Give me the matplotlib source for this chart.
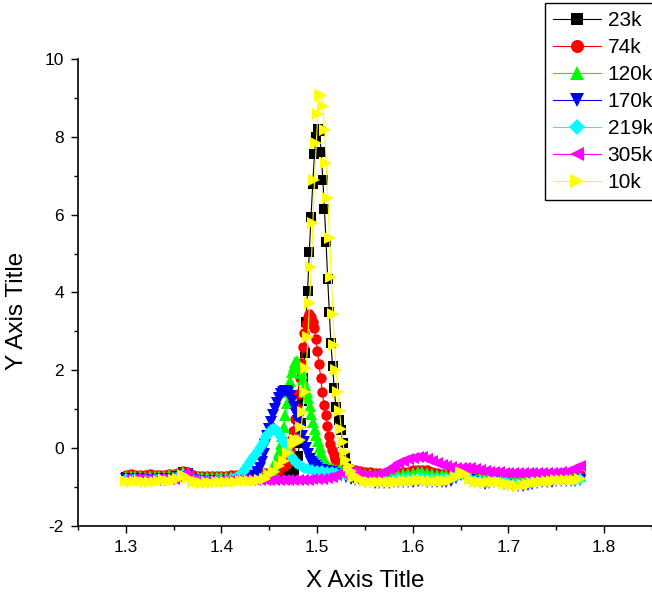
"""
Origin-style multi-temperature spectrum overlay, redrawn with matplotlib
"""

import numpy as np
import matplotlib
matplotlib.use("Agg")
import matplotlib.pyplot as plt

nan = np.nan

# regular sampling of the flat parts: 1.300, 1.305, ..., 1.775 (96 points)
GRID = np.round(1.300 + 0.005 * np.arange(96), 3)

LABELS = ["23k", "74k", "120k", "170k", "219k", "305k", "10k"]
COLORS = ["#000000", "#FF0000", "#00FF00", "#0000FF", "#00FFFF", "#FF00FF", "#FFFF00"]
MARKERS = ["s", "o", "^", "v", "D", "<", ">"]

# ---- baseline values on GRID (nan where the finer peak samples take over) ----
BASE_23K = [
    -0.74, -0.75, -0.74, -0.73, -0.75, -0.76, -0.75, -0.74, -0.73, -0.73,
    -0.72, -0.68, -0.60, -0.65, -0.74, -0.77, -0.78, -0.77, -0.78, -0.77,
    -0.76, -0.77, -0.76, -0.75, -0.75, -0.74, -0.75, -0.74, -0.73, -0.72,
    -0.72, -0.71, -0.70, -0.68, -0.65, -0.60, nan, nan, nan, nan,
    nan, nan, nan, nan, nan, nan, nan, -0.64, -0.69, -0.72,
    -0.74, -0.75, -0.76, -0.76, -0.75, -0.75, -0.74, -0.74, -0.73, -0.72,
    -0.70, -0.68, -0.68, -0.70, -0.73, -0.75, -0.76, -0.75, -0.72, -0.66,
    -0.60, -0.63, -0.72, -0.78, -0.80, -0.80, -0.79, -0.78, -0.79, -0.81,
    -0.84, -0.86, -0.87, -0.86, -0.84, -0.82, -0.80, -0.79, -0.78, -0.77,
    -0.76, -0.75, -0.75, -0.76, -0.75, -0.73,
]
BASE_74K = [
    -0.68, -0.67, -0.68, -0.69, -0.68, -0.67, -0.68, -0.69, -0.68, -0.67,
    -0.66, -0.63, -0.58, -0.62, -0.70, -0.72, -0.72, -0.71, -0.72, -0.72,
    -0.71, -0.71, -0.70, -0.70, -0.69, -0.68, -0.67, -0.67, -0.66, -0.65,
    -0.63, -0.60, -0.55, -0.47, nan, nan, nan, nan, nan, nan,
    nan, nan, nan, nan, nan, nan, -0.51, -0.53, -0.55, -0.58,
    -0.60, -0.62, -0.64, -0.65, -0.66, -0.66, -0.65, -0.64, -0.62, -0.60,
    -0.57, -0.55, -0.55, -0.57, -0.61, -0.64, -0.66, -0.67, -0.66, -0.63,
    -0.58, -0.61, -0.67, -0.70, -0.71, -0.71, -0.70, -0.70, -0.71, -0.72,
    -0.73, -0.74, -0.74, -0.73, -0.72, -0.71, -0.70, -0.70, -0.69, -0.69,
    -0.68, -0.68, -0.69, -0.70, -0.70, -0.68,
]
BASE_120K = [
    -0.71, -0.72, -0.71, -0.72, -0.73, -0.72, -0.71, -0.72, -0.71, -0.70,
    -0.69, -0.66, -0.60, -0.64, -0.73, -0.75, -0.75, -0.74, -0.75, -0.74,
    -0.74, -0.73, -0.73, -0.72, -0.72, -0.71, -0.71, -0.70, -0.69, -0.66,
    nan, nan, nan, nan, nan, nan, nan, nan, nan, nan,
    nan, nan, nan, nan, nan, nan, -0.58, -0.60, -0.62, -0.64,
    -0.66, -0.67, -0.68, -0.69, -0.70, -0.70, -0.69, -0.68, -0.67, -0.66,
    -0.64, -0.62, -0.62, -0.64, -0.67, -0.69, -0.70, -0.70, -0.69, -0.65,
    -0.60, -0.63, -0.70, -0.73, -0.74, -0.74, -0.73, -0.73, -0.74, -0.75,
    -0.77, -0.78, -0.78, -0.77, -0.76, -0.75, -0.74, -0.73, -0.73, -0.72,
    -0.72, -0.72, -0.73, -0.74, -0.73, -0.71,
]
BASE_170K = [
    -0.80, -0.81, -0.80, -0.79, -0.81, -0.82, -0.81, -0.80, -0.79, -0.79,
    -0.78, -0.75, -0.68, -0.72, -0.82, -0.85, -0.86, -0.85, -0.86, -0.85,
    -0.84, -0.85, -0.84, -0.83, -0.82, -0.80, -0.77, nan, nan, nan,
    nan, nan, nan, nan, nan, nan, nan, nan, nan, nan,
    nan, nan, nan, -0.62, -0.66, -0.70, -0.74, -0.78, -0.82, -0.85,
    -0.87, -0.88, -0.89, -0.90, -0.90, -0.89, -0.88, -0.88, -0.87, -0.86,
    -0.86, -0.85, -0.85, -0.86, -0.86, -0.87, -0.87, -0.86, -0.84, -0.77,
    -0.68, -0.72, -0.82, -0.88, -0.90, -0.91, -0.90, -0.88, -0.89, -0.92,
    -0.95, -0.97, -0.98, -0.97, -0.95, -0.92, -0.90, -0.88, -0.87, -0.86,
    -0.85, -0.84, -0.84, -0.85, -0.84, -0.82,
]
BASE_219K = [
    -0.79, -0.80, -0.79, -0.78, -0.80, -0.81, -0.80, -0.79, -0.78, -0.78,
    -0.77, -0.73, -0.66, -0.70, -0.80, -0.83, -0.84, -0.83, -0.84, -0.83,
    -0.82, -0.81, nan, nan, nan, nan, nan, nan, nan, nan,
    nan, nan, nan, nan, nan, nan, nan, nan, nan, nan,
    nan, nan, nan, nan, nan, nan, nan, nan, nan, nan,
    -0.75, -0.77, -0.79, -0.81, -0.82, -0.82, -0.81, -0.80, -0.80, -0.79,
    -0.78, -0.77, -0.77, -0.78, -0.79, -0.80, -0.80, -0.79, -0.77, -0.71,
    -0.64, -0.68, -0.78, -0.84, -0.85, -0.86, -0.85, -0.83, -0.84, -0.86,
    -0.89, -0.91, -0.92, -0.91, -0.89, -0.87, -0.85, -0.83, -0.82, -0.81,
    -0.80, -0.80, -0.80, -0.81, -0.81, -0.79,
]
BASE_305K = [
    -0.80, -0.81, -0.80, -0.79, -0.81, -0.82, -0.81, -0.80, -0.79, -0.79,
    -0.78, -0.74, -0.67, -0.71, -0.81, -0.84, -0.85, -0.84, -0.85, -0.84,
    -0.84, -0.84, -0.83, -0.83, -0.82, -0.82, -0.82, -0.81, -0.81, -0.81,
    -0.81, -0.82, -0.82, -0.83, -0.83, -0.82, -0.82, -0.81, -0.81, -0.80,
    -0.80, -0.79, -0.77, -0.74, -0.70, -0.65, -0.61, -0.60, -0.63, -0.68,
    -0.71, -0.72, -0.70, -0.66, -0.60, -0.53, -0.46, -0.39, -0.33, -0.28,
    -0.25, -0.23, -0.24, -0.28, -0.33, -0.38, -0.43, -0.46, -0.49, -0.50,
    -0.50, -0.50, -0.51, -0.54, -0.57, -0.59, -0.60, -0.61, -0.62, -0.63,
    -0.64, -0.64, -0.64, -0.64, -0.64, -0.63, -0.63, -0.63, -0.64, -0.64,
    -0.63, -0.62, -0.60, -0.56, -0.50, -0.45,
]
BASE_10K = [
    -0.85, -0.86, -0.85, -0.84, -0.86, -0.87, -0.86, -0.85, -0.83, -0.84,
    -0.82, -0.78, -0.70, -0.76, -0.86, -0.88, -0.89, -0.88, -0.89, -0.88,
    -0.87, -0.88, -0.87, -0.86, -0.85, -0.84, -0.85, -0.84, -0.83, -0.78,
    -0.70, -0.60, -0.47, -0.32, -0.12, 0.10, nan, nan, nan, nan,
    nan, nan, nan, nan, nan, nan, nan, nan, -0.74, -0.80,
    -0.85, -0.86, -0.87, -0.88, -0.88, -0.87, -0.86, -0.86, -0.85, -0.84,
    -0.84, -0.83, -0.83, -0.84, -0.84, -0.85, -0.85, -0.84, -0.83, -0.75,
    -0.62, -0.66, -0.78, -0.86, -0.88, -0.89, -0.88, -0.86, -0.87, -0.90,
    -0.93, -0.95, -0.96, -0.95, -0.93, -0.90, -0.88, -0.86, -0.85, -0.84,
    -0.83, -0.82, -0.82, -0.83, -0.82, -0.80,
]

# ---- densely sampled peak regions ----
PEAK_23K_X = [1.4762, 1.4780, 1.4798, 1.4816, 1.4830, 1.4843, 1.4856, 1.4869, 1.4882,
              1.4900, 1.4918, 1.4936, 1.4954, 1.4972, 1.4988, 1.5005, 1.5025, 1.5042,
              1.5059, 1.5076, 1.5093, 1.5110, 1.5127, 1.5144, 1.5161, 1.5178, 1.5195,
              1.5225, 1.5250, 1.5268, 1.5286, 1.5305, 1.5325]
PEAK_23K_Y = [-0.55, -0.42, -0.20, 0.12, 0.65, 1.20, 1.80, 2.45, 3.25,
              4.05, 5.05, 5.95, 6.80, 7.55, 8.00, 8.20, 8.15, 7.60,
              6.90, 6.15, 5.30, 4.35, 3.50, 2.70, 2.10, 1.55, 1.05,
              0.72, 0.46, 0.12, -0.22, -0.45, -0.58]

PEAK_74K_X = [1.4680, 1.4697, 1.4714, 1.4731, 1.4748, 1.4765, 1.4782, 1.4799, 1.4816,
              1.4833, 1.4850, 1.4867, 1.4884, 1.4901, 1.4918, 1.4935, 1.4952, 1.4969,
              1.4986, 1.5003, 1.5020, 1.5037, 1.5054, 1.5071, 1.5088, 1.5105, 1.5122,
              1.5139, 1.5156, 1.5173, 1.5190, 1.5207, 1.5224, 1.5241, 1.5258]
PEAK_74K_Y = [-0.40, -0.25, -0.05, 0.20, 0.45, 0.75, 1.05, 1.40, 1.80,
              2.20, 2.60, 2.95, 3.20, 3.38, 3.45, 3.38, 3.25, 3.10,
              2.80, 2.50, 2.15, 1.80, 1.45, 1.12, 0.85, 0.57, 0.30,
              0.10, -0.05, -0.18, -0.28, -0.36, -0.42, -0.46, -0.49]

PEAK_120K_X = [1.4500, 1.4525, 1.4550, 1.4575, 1.4600, 1.4617, 1.4634, 1.4651, 1.4668,
               1.4685, 1.4702, 1.4719, 1.4736, 1.4753, 1.4770, 1.4787, 1.4804, 1.4821,
               1.4838, 1.4855, 1.4872, 1.4889, 1.4906, 1.4923, 1.4940, 1.4957, 1.4974,
               1.4991, 1.5008, 1.5025, 1.5042, 1.5059, 1.5076, 1.5093, 1.5110, 1.5140,
               1.5170, 1.5200, 1.5230, 1.5250]
PEAK_120K_Y = [-0.62, -0.55, -0.45, -0.30, -0.10, 0.10, 0.30, 0.55, 0.85,
               1.15, 1.45, 1.72, 1.95, 2.12, 2.22, 2.25, 2.18, 2.05,
               1.92, 1.78, 1.62, 1.45, 1.28, 1.08, 0.88, 0.68, 0.50,
               0.33, 0.18, 0.04, -0.10, -0.22, -0.32, -0.40, -0.46, -0.51,
               -0.54, -0.56, -0.57, -0.57]

PEAK_170K_X = [1.4350, 1.4375, 1.4400, 1.4420, 1.4440, 1.4460, 1.4480, 1.4500, 1.4520,
               1.4540, 1.4560, 1.4580, 1.4600, 1.4620, 1.4640, 1.4660, 1.4680, 1.4700,
               1.4720, 1.4740, 1.4760, 1.4780, 1.4800, 1.4820, 1.4840, 1.4860, 1.4880,
               1.4900, 1.4920, 1.4940, 1.4960, 1.4980, 1.5000, 1.5050, 1.5100]
PEAK_170K_Y = [-0.72, -0.62, -0.50, -0.35, -0.15, 0.08, 0.30, 0.50, 0.68,
               0.85, 1.00, 1.15, 1.28, 1.38, 1.45, 1.48, 1.47, 1.43,
               1.35, 1.22, 1.05, 0.88, 0.70, 0.50, 0.32, 0.15, 0.00,
               -0.14, -0.27, -0.36, -0.42, -0.47, -0.50, -0.55, -0.58]

PEAK_219K_X = [1.4100, 1.4125, 1.4150, 1.4175, 1.4200, 1.4225, 1.4250, 1.4275, 1.4300,
               1.4320, 1.4340, 1.4360, 1.4380, 1.4400, 1.4420, 1.4440, 1.4460, 1.4480,
               1.4500, 1.4520, 1.4540, 1.4560, 1.4580, 1.4600, 1.4620, 1.4640, 1.4660,
               1.4680, 1.4700, 1.4720, 1.4740, 1.4760, 1.4780, 1.4800, 1.4830, 1.4860,
               1.4900, 1.4950, 1.5000, 1.5050, 1.5100, 1.5150, 1.5200, 1.5250, 1.5300,
               1.5350, 1.5400, 1.5450]
PEAK_219K_Y = [-0.80, -0.78, -0.76, -0.73, -0.68, -0.61, -0.53, -0.44, -0.35,
               -0.28, -0.21, -0.14, -0.07, 0.00, 0.08, 0.16, 0.25, 0.33,
               0.40, 0.46, 0.50, 0.49, 0.44, 0.36, 0.28, 0.20, 0.10,
               0.00, -0.09, -0.17, -0.24, -0.31, -0.37, -0.42, -0.47, -0.51,
               -0.54, -0.56, -0.58, -0.59, -0.60, -0.62, -0.64, -0.66, -0.68,
               -0.70, -0.72, -0.73]

PEAK_10K_X = [1.4765, 1.4782, 1.4799, 1.4816, 1.4834, 1.4851, 1.4868, 1.4886, 1.4903,
              1.4921, 1.4938, 1.4955, 1.4972, 1.4991, 1.5007, 1.5025, 1.5043, 1.5060,
              1.5078, 1.5095, 1.5112, 1.5130, 1.5147, 1.5164, 1.5181, 1.5199, 1.5216,
              1.5234, 1.5251, 1.5268, 1.5286, 1.5305, 1.5330, 1.5355, 1.5380]
PEAK_10K_Y = [0.18, 0.22, 0.15, 0.20, 0.55, 0.93, 1.45, 2.05, 2.86,
              3.74, 4.66, 5.79, 6.89, 7.83, 8.59, 9.05, 9.07, 8.79,
              8.17, 7.34, 6.43, 5.39, 4.39, 3.46, 2.65, 2.02, 1.45,
              0.95, 0.50, 0.15, -0.10, -0.30, -0.45, -0.58, -0.68]

BASES = [BASE_23K, BASE_74K, BASE_120K, BASE_170K, BASE_219K, BASE_305K, BASE_10K]
PEAKS = [(PEAK_23K_X, PEAK_23K_Y), (PEAK_74K_X, PEAK_74K_Y), (PEAK_120K_X, PEAK_120K_Y),
         (PEAK_170K_X, PEAK_170K_Y), (PEAK_219K_X, PEAK_219K_Y), ([], []),
         (PEAK_10K_X, PEAK_10K_Y)]


def merge(base_y, peak_x, peak_y):
    base_y = np.asarray(base_y, dtype=float)
    keep = ~np.isnan(base_y)
    x = np.concatenate([GRID[keep], np.asarray(peak_x, dtype=float)])
    y = np.concatenate([base_y[keep], np.asarray(peak_y, dtype=float)])
    order = np.argsort(x)
    return x[order], y[order]


plt.rcParams["font.family"] = ["Liberation Sans", "DejaVu Sans"]
plt.rcParams["axes.unicode_minus"] = False

fig = plt.figure(figsize=(6.52, 5.94), dpi=100)
ax = fig.add_axes([0.1196, 0.1145, 0.8804, 0.7862])

sizes = {"s": 6.5, "o": 7.5, "^": 8.5, "v": 8.5, "D": 6.5, "<": 8.5, ">": 8.5}
for label, color, marker, base, (px, py) in zip(LABELS, COLORS, MARKERS, BASES, PEAKS):
    x, y = merge(base, px, py)
    ax.plot(x, y, color=color, lw=0.8, marker=marker, ms=sizes[marker],
            mec=color, mfc=color, mew=0, label=label)

ax.set_xlim(1.25, 1.85)
ax.set_ylim(-2, 10)
ax.set_xticks([1.3, 1.4, 1.5, 1.6, 1.7, 1.8])
ax.set_xticks(np.arange(1.25, 1.86, 0.05), minor=True)
ax.set_yticks(np.arange(-2, 11, 2))
ax.set_yticks(np.arange(-2, 11, 1), minor=True)
ax.tick_params(which="major", direction="out", length=5, width=1.0, labelsize=12.5, pad=5)
ax.tick_params(which="minor", direction="out", length=3, width=1.0)
ax.spines["top"].set_visible(False)
ax.spines["right"].set_visible(False)
for side in ("left", "bottom"):
    ax.spines[side].set_linewidth(1.2)

ax.set_xlabel("X Axis Title", fontsize=17.5)
ax.set_ylabel("Y Axis Title", fontsize=17.5)
ax.xaxis.set_label_coords(0.5, -0.094)
ax.yaxis.set_label_coords(-0.087, 0.46)

leg = ax.legend(loc="upper left", bbox_to_anchor=(0.836, 0.995), bbox_transform=fig.transFigure,
                fontsize=15, frameon=True, fancybox=False, framealpha=1, edgecolor="black",
                handlelength=2.3, handletextpad=0.3, labelspacing=0.38, borderpad=0.4,
                borderaxespad=0, markerscale=1.25, numpoints=1)
leg.get_frame().set_linewidth(1.0)

fig.savefig("out.png", dpi=100)
